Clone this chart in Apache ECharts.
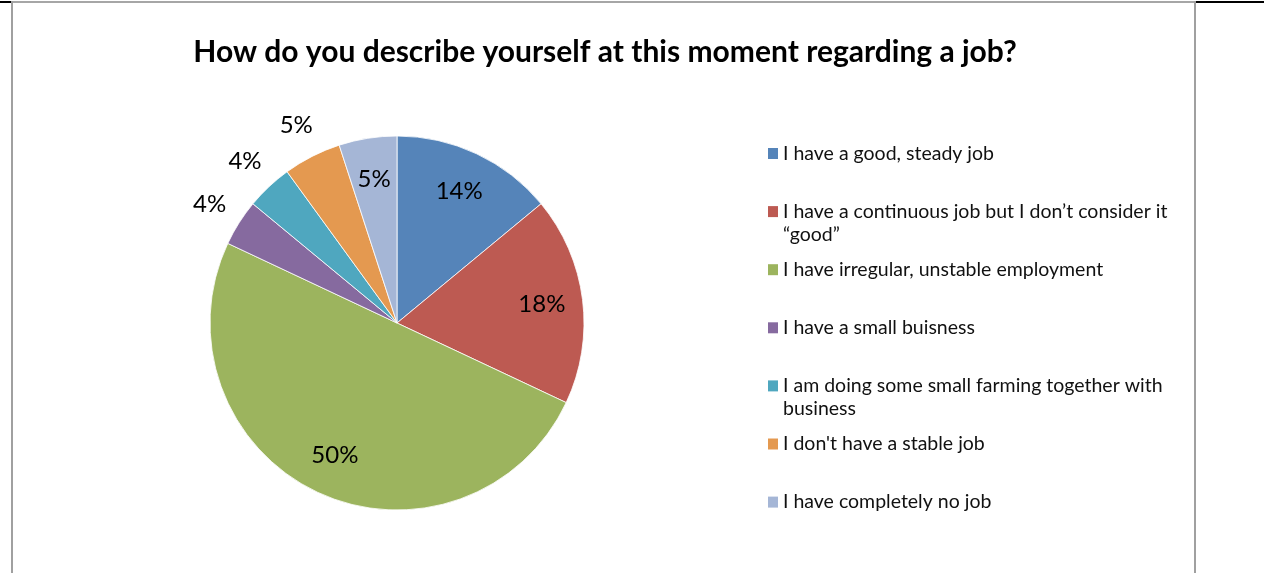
<!DOCTYPE html>
<html>
<head>
<meta charset="utf-8">
<title>Job situation</title>
<script src="https://cdn.jsdelivr.net/npm/echarts@6/dist/echarts.min.js"></script>
<style>
  html, body { margin: 0; padding: 0; background: #fff; }
  #chart { width: 1264px; height: 573px; }
</style>
</head>
<body>
<div id="chart"></div>
<script>
// Survey answers and their shares (percent)
const categories = [
  'I have a good, steady job',
  'I have a continuous job but I don\u2019t consider it\n\u201cgood\u201d',
  'I have irregular, unstable employment',
  'I have a small buisness',
  'I am doing some small farming together with\nbusiness',
  'I don\'t have a stable job',
  'I have completely no job'
];
const shares = [14, 18, 50, 4, 4, 5, 5];
// which labels sit inside their slice (true) or just outside it (false)
const labelInside = [true, true, true, false, false, false, true];

const titleText = 'How do you describe yourself at this moment regarding a job?';
const palette = ['#5584B9', '#BD5A52', '#9CB45E', '#866A9F', '#4FA7BF', '#E49950', '#A5B6D6'];

const FONT = 'Lato, "Open Sans", sans-serif';
const center = [397, 323];
const R = 187;

const chart = echarts.init(document.getElementById('chart'), null, { renderer: 'canvas' });

const pieData = categories.map((name, i) => ({ name, value: shares[i] }));

// one legend block per entry, evenly stacked; wrapped entries get a blank
// leading line so the swatch stays level with their first line
const legendStart = 153.5, legendStep = 58.1, lineH = 23;
const legends = categories.map((name, i) => {
  const wrapped = name.indexOf('\n') >= 0;
  const c = legendStart + legendStep * i;
  return {
    data: [name],
    orient: 'vertical',
    left: 768,
    top: c - (wrapped ? 34.5 : 11.5),
    padding: 0,
    itemWidth: 10,
    itemHeight: 11,
    icon: 'rect',
    selectedMode: false,
    itemStyle: { borderWidth: 0 },
    formatter: n => (wrapped ? ' \n' + n : n),
    textStyle: {
      fontFamily: FONT,
      fontSize: 19.5,
      color: '#111',
      lineHeight: lineH
    }
  };
});

const hiddenItem = { color: 'rgba(0,0,0,0)', borderWidth: 0 };

chart.setOption({
  animation: false,
  color: palette,
  graphic: [
    // frame around the chart area
    { type: 'rect', shape: { x: 0, y: 1, width: 11, height: 2 }, style: { fill: '#000' }, silent: true },
    { type: 'rect', shape: { x: 1196, y: 1, width: 68, height: 2 }, style: { fill: '#000' }, silent: true },
    { type: 'rect', shape: { x: 11, y: 1, width: 1185, height: 2 }, style: { fill: '#a6a6a6' }, silent: true },
    { type: 'rect', shape: { x: 11, y: 1, width: 2, height: 572 }, style: { fill: '#a0a0a0' }, silent: true },
    { type: 'rect', shape: { x: 1194, y: 1, width: 2, height: 572 }, style: { fill: '#a0a0a0' }, silent: true },
    {
      type: 'text', x: 605, y: 52, silent: true,
      style: {
        text: titleText, fontFamily: FONT, fontWeight: 'bold', fontSize: 30,
        fill: '#000', align: 'center', verticalAlign: 'middle'
      }
    }
  ],
  legend: legends,
  series: [
    {
      type: 'pie',
      center: center,
      radius: [0, R],
      startAngle: 90,
      clockwise: true,
      silent: true,
      data: pieData,
      itemStyle: { borderColor: '#fff', borderWidth: 0.8 },
      label: { show: false },
      labelLine: { show: false }
    },
    {
      // labels placed inside the slices
      type: 'pie',
      center: center,
      radius: [99, R],
      startAngle: 90,
      clockwise: true,
      silent: true,
      legendHoverLink: false,
      data: pieData.map((d, i) => ({
        name: d.name, value: d.value, itemStyle: hiddenItem,
        label: { show: labelInside[i] }
      })),
      label: {
        position: 'inside', formatter: '{c}%',
        fontFamily: FONT, fontSize: 24, color: '#000'
      },
      labelLine: { show: false }
    },
    {
      // labels placed just outside the thin slices
      type: 'pie',
      center: center,
      radius: [R + 8, R + 56],
      startAngle: 90,
      clockwise: true,
      silent: true,
      legendHoverLink: false,
      data: pieData.map((d, i) => ({
        name: d.name, value: d.value, itemStyle: hiddenItem,
        label: { show: !labelInside[i] }
      })),
      label: {
        position: 'inside', formatter: '{c}%',
        fontFamily: FONT, fontSize: 24, color: '#000'
      },
      labelLine: { show: false }
    }
  ]
});
</script>
</body>
</html>
